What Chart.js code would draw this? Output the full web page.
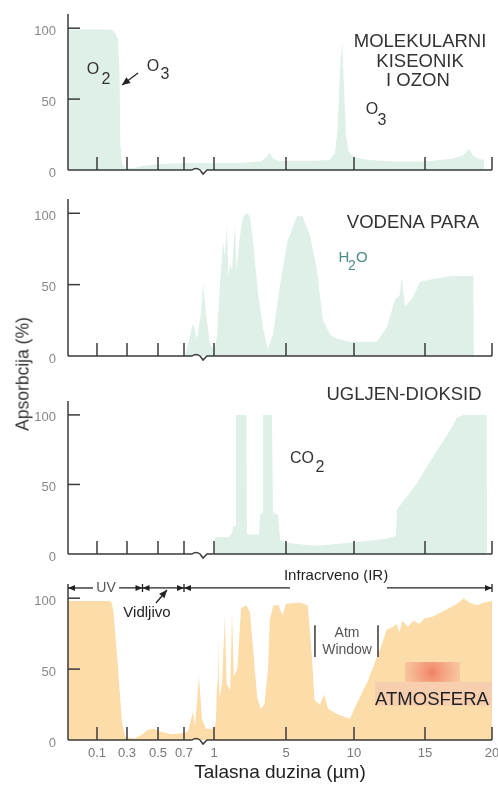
<!DOCTYPE html>
<html>
<head>
<meta charset="utf-8">
<script src="https://cdn.jsdelivr.net/npm/chart.js@4.4.1/dist/chart.umd.min.js"></script>
<style>
  html, body { margin: 0; padding: 0; background: #fff; }
  body { width: 498px; height: 793px; position: relative; overflow: hidden; font-family: "Liberation Sans", Arial, sans-serif; }
  canvas { position: absolute; left: 0; }
  #ytitle { position: absolute; left: 23px; top: 374px; transform: translate(-50%, -50%) rotate(-90deg); font-size: 17.5px; color: #333; white-space: nowrap; }
</style>
</head>
<body>
<canvas id="c1" width="498" height="185" style="top:0px;width:498px;height:185px"></canvas>
<canvas id="c2" width="498" height="185" style="top:185px;width:498px;height:185px"></canvas>
<canvas id="c3" width="498" height="200" style="top:370px;width:498px;height:200px"></canvas>
<canvas id="c4" width="498" height="223" style="top:570px;width:498px;height:223px"></canvas>
<div id="ytitle">Apsorbcija (%)</div>
<script>
// ose
const tickWl = [0.1, 0.3, 0.5, 0.7, 1, 5, 10, 15, 20];
const tickLabels = ['0.1', '0.3', '0.5', '0.7', '1', '5', '10', '15', '20'];
const yTicks = [0, 50, 100];

// molekularni kiseonik i ozon (talasna duzina um / apsorbcija %)
const o2o3Wl = [0, 0.19, 0.22, 0.24, 0.25, 0.255, 0.267, 0.29, 0.35, 0.4, 0.5, 0.7, 1, 2.5, 3.6, 3.9, 4.1, 4.3, 4.6, 7, 8.2, 8.6, 8.8, 8.97, 9.12, 9.26, 9.41, 9.6, 10, 11, 13, 15, 17, 17.8, 18.3, 18.6, 19, 19.4, 19.45];
const o2o3Abs = [99, 99, 97, 92, 70, 20, 5, 1, 1.5, 3, 4, 5, 5, 5, 6, 9, 12, 8, 6.5, 6.5, 7, 12, 30, 70, 90, 60, 25, 13, 9, 7, 6, 6, 8, 10, 15, 10, 8, 7, 0];

// vodena para
const h2oWl = [0.71, 0.74, 0.79, 0.83, 0.87, 0.89, 0.92, 0.96, 1.0, 1.06, 1.17, 1.33, 1.5, 1.61, 1.72, 1.8, 1.89, 2.0, 2.17, 2.25, 2.4, 2.6, 2.8, 3.0, 3.17, 3.44, 3.72, 4.0, 4.28, 4.67, 5.1, 5.8, 6.2, 6.76, 7.28, 7.72, 8.24, 8.75, 9.7, 11.6, 12.3, 12.9, 13.2, 13.38, 13.59, 14.08, 14.65, 15.6, 17, 18.6, 18.66];
const h2oAbs = [0, 8, 23, 12, 30, 51, 30, 8, 5, 6, 15, 50, 80, 70, 92, 55, 65, 60, 93, 60, 80, 97, 100, 98, 80, 45, 20, 5, 15, 50, 80, 98, 98, 85, 60, 25, 15, 12, 10, 10, 20, 40, 42, 55, 35, 40, 52, 54, 56, 56, 0];

// ugljen-dioksid
const co2Wl = [1.05, 1.06, 1.8, 2.0, 2.06, 2.2, 2.22, 2.8, 2.83, 3.5, 3.56, 3.7, 3.72, 4.22, 4.28, 4.56, 4.67, 5, 6, 7.3, 8.5, 10, 11, 12.2, 12.95, 13.03, 14.44, 15.6, 16.87, 17.39, 17.84, 19.6, 19.63];
const co2Abs = [0, 12, 12, 15, 20, 20, 100, 100, 14, 14, 28, 30, 100, 100, 30, 28, 10, 8, 7, 6, 7, 8.5, 9.5, 11, 13, 32, 51, 70, 89, 98, 100, 100, 0];

// cela atmosfera
const atmWl = [0, 0.19, 0.2, 0.21, 0.233, 0.267, 0.29, 0.35, 0.4, 0.43, 0.47, 0.52, 0.6, 0.7, 0.74, 0.79, 0.81, 0.85, 0.88, 0.92, 1.0, 1.1, 1.17, 1.22, 1.3, 1.45, 1.6, 1.7, 1.9, 2.0, 2.1, 2.3, 2.5, 2.8, 3.0, 3.2, 3.4, 3.6, 3.8, 4.0, 4.1, 4.3, 4.6, 4.8, 5.0, 6.0, 6.6, 6.9, 7.1, 7.5, 7.8, 8.1, 8.8, 9.7, 10.2, 10.9, 11.8, 12.3, 12.8, 13.0, 13.2, 13.4, 13.8, 14.2, 14.6, 15.0, 15.6, 16.2, 16.8, 17.4, 17.9, 18.3, 18.9, 19.4, 20];
const atmAbs = [98, 98, 96, 90, 61, 12, 2, 1, 4, 7, 8, 6, 4, 5, 6, 20, 10, 45, 15, 8, 8, 12, 40, 72, 30, 40, 87, 40, 35, 90, 45, 50, 93, 95, 90, 60, 30, 22, 25, 50, 85, 95, 95, 88, 96, 97, 95, 60, 28, 25, 32, 22, 18, 15, 26, 40, 63, 78, 80, 82, 76, 84, 80, 84, 82, 86, 87, 90, 93, 96, 100, 97, 95, 97, 98];

const FONT = '"Liberation Sans", Arial, Helvetica, sans-serif';
const zelena = 'rgb(222, 240, 232)';
const narandzasta = 'rgb(252, 221, 170)';

// prelomljena osa: talasna duzina -> polozaj na osi
const axisWl = [0, 0.1, 0.3, 0.5, 0.7, 1, 5, 10, 15, 20];
const axisPos = [0, 29, 59, 90, 116, 146, 218, 286, 357, 424];

function osa(w) {
    for (let i = 1; i < axisWl.length; i++) {
        if (w <= axisWl[i]) {
            const t = (w - axisWl[i - 1]) / (axisWl[i] - axisWl[i - 1]);
            return axisPos[i - 1] + t * (axisPos[i] - axisPos[i - 1]);
        }
    }
    return axisPos[axisPos.length - 1];
}

function px(c, w) { return c.scales.x.getPixelForValue(osa(w)); }
function py(c, v) { return c.scales.y.getPixelForValue(v); }

function linija(ctx, x1, y1, x2, y2) {
    ctx.beginPath();
    ctx.moveTo(x1, y1);
    ctx.lineTo(x2, y2);
    ctx.stroke();
}

// vrh strelice u tacki (x, y), ugao smera
function vrh(ctx, x, y, ugao, d, s) {
    d = d || 7; s = s || 3;
    const cs = Math.cos(ugao), sn = Math.sin(ugao);
    ctx.beginPath();
    ctx.moveTo(x, y);
    ctx.lineTo(x - d * cs - s * sn, y - d * sn + s * cs);
    ctx.lineTo(x - d * cs + s * sn, y - d * sn - s * cs);
    ctx.closePath();
    ctx.fill();
}

function strelica(ctx, x1, y1, x2, y2) {
    linija(ctx, x1, y1, x2, y2);
    vrh(ctx, x2, y2, Math.atan2(y2 - y1, x2 - x1), 8, 3.5);
}

function napisi(c, lista) {
    const ctx = c.ctx;
    ctx.save();
    ctx.textAlign = 'center';
    ctx.textBaseline = 'middle';
    lista.forEach(n => {
        ctx.font = (n.s || 15) + 'px ' + FONT;
        ctx.fillStyle = n.c || '#333';
        ctx.fillText(n.t, px(c, n.w), py(c, n.v));
    });
    ctx.restore();
}

// ose crtane preko povrsine, sa prelomom i crticama okrenutim unutra
const osePlugin = {
    id: 'ose',
    afterDatasetsDraw(c) {
        const ctx = c.ctx, a = c.chartArea;
        ctx.save();
        ctx.strokeStyle = '#3a3a3a';
        ctx.lineWidth = 1.5;
        linija(ctx, a.left, a.top, a.left, a.bottom);
        const xb = px(c, 0.85), yb = a.bottom;
        ctx.beginPath();
        ctx.moveTo(a.left, yb);
        ctx.lineTo(xb - 7, yb);
        ctx.quadraticCurveTo(xb - 3, yb - 3, xb + 1, yb);
        ctx.lineTo(xb + 4, yb + 4);
        ctx.lineTo(xb + 8, yb);
        ctx.lineTo(a.right, yb);
        ctx.stroke();
        tickWl.forEach(w => { const x = px(c, w); linija(ctx, x, yb, x, yb - 13); });
        [50, 100].forEach(v => { const y = py(c, v); linija(ctx, a.left, y, a.left + 12, y); });
        ctx.restore();
    }
};

function grafikon(id, wl, abs, boja, o) {
    const poslednji = !!o.poslednji;
    return new Chart(document.getElementById(id), {
        type: 'line',
        data: {
            datasets: [{
                data: wl.map((w, i) => ({ x: osa(w), y: abs[i] })),
                fill: 'origin',
                backgroundColor: boja,
                borderWidth: 0,
                pointRadius: 0,
                tension: 0
            }]
        },
        options: {
            responsive: false,
            animation: false,
            layout: { padding: { top: o.top, bottom: o.bottom, left: 0, right: 6 } },
            plugins: { legend: { display: false }, tooltip: { enabled: false } },
            scales: {
                x: {
                    type: 'linear',
                    min: 0,
                    max: axisPos[axisPos.length - 1],
                    afterBuildTicks: s => { s.ticks = tickWl.map(w => ({ value: osa(w) })); },
                    afterFit: s => {
                        s.height = poslednji ? 53 : 0;
                        s.paddingLeft = 0; s.paddingRight = 0;
                    },
                    grid: { display: false, drawTicks: false },
                    border: { display: false },
                    ticks: {
                        display: poslednji,
                        autoSkip: false,
                        maxRotation: 0,
                        padding: 6,
                        color: '#777',
                        font: { size: 13, family: FONT },
                        callback: (v, i) => tickLabels[i]
                    },
                    title: {
                        display: poslednji,
                        text: 'Talasna duzina (µm)',
                        color: '#222',
                        font: { size: 19, family: FONT },
                        padding: { top: 0, bottom: 9 }
                    }
                },
                y: {
                    min: 0,
                    max: 110,
                    afterBuildTicks: s => { s.ticks = yTicks.map(v => ({ value: v })); },
                    afterFit: s => {
                        s.width = 68;
                        s.paddingTop = 0; s.paddingBottom = 0;
                    },
                    grid: { display: false, drawTicks: false },
                    border: { display: false },
                    ticks: { color: '#888', padding: 12, labelOffset: 3, font: { size: 13, family: FONT } }
                }
            }
        },
        plugins: [osePlugin, { id: 'natpisi', afterDatasetsDraw: c => o.crtaj(c) }]
    });
}

// Panel 1 - O2 i O3
grafikon('c1', o2o3Wl, o2o3Abs, zelena, {
    top: 14, bottom: 15,
    crtaj: c => {
        napisi(c, [
            { t: 'MOLEKULARNI', w: 14.65, v: 90, s: 18.5 },
            { t: 'KISEONIK', w: 14.65, v: 76, s: 18.5 },
            { t: 'I OZON', w: 14.5, v: 63, s: 18.5 },
            { t: 'O', w: 0.086, v: 71, s: 16 },
            { t: '2', w: 0.16, v: 63.5, s: 16 },
            { t: 'O', w: 0.468, v: 72.6, s: 16 },
            { t: '3', w: 0.554, v: 67, s: 16 },
            { t: 'O', w: 11.27, v: 42.3, s: 16 },
            { t: '3', w: 11.97, v: 34.6, s: 16 }
        ]);
        const ctx = c.ctx;
        ctx.save();
        ctx.strokeStyle = '#222'; ctx.fillStyle = '#222'; ctx.lineWidth = 1.3;
        strelica(ctx, px(c, 0.371), py(c, 68.4), px(c, 0.267), py(c, 60));
        ctx.restore();
    }
});

// Panel 2 - vodena para
grafikon('c2', h2oWl, h2oAbs, zelena, {
    top: 14, bottom: 14,
    crtaj: c => napisi(c, [
        { t: 'VODENA PARA', w: 14.15, v: 93.2, s: 18.5 },
        { t: 'H', w: 9.26, v: 68.7, s: 15, c: '#4f8b88' },
        { t: '2', w: 9.85, v: 63, s: 14, c: '#4f8b88' },
        { t: 'O', w: 10.56, v: 68.7, s: 15, c: '#4f8b88' }
    ])
});

// Panel 3 - ugljen-dioksid
grafikon('c3', co2Wl, co2Abs, zelena, {
    top: 31, bottom: 16,
    crtaj: c => napisi(c, [
        { t: 'UGLJEN-DIOKSID', w: 13.52, v: 114.3, s: 18.5 },
        { t: 'CO', w: 6.18, v: 68.3, s: 16 },
        { t: '2', w: 7.5, v: 61.8, s: 16 }
    ])
});

// Panel 4 - atmosfera
grafikon('c4', atmWl, atmAbs, narandzasta, {
    top: 14, bottom: 0, poslednji: true,
    crtaj: c => {
        const ctx = c.ctx;
        ctx.save();
        // crvenkasti odsjaj iza natpisa
        const bx1 = px(c, 11.48), bx2 = px(c, 20.07);
        ctx.fillStyle = 'rgba(242, 190, 182, 0.45)';
        ctx.fillRect(bx1, py(c, 41), bx2 - bx1, py(c, 24) - py(c, 41));
        const sx1 = px(c, 13.59), sx2 = px(c, 17.61), sy1 = py(c, 55), sy2 = py(c, 41);
        const cx = px(c, 15.52), cy = py(c, 47.9);
        const g = ctx.createRadialGradient(cx, cy, 0, cx, cy, 28);
        g.addColorStop(0, 'rgba(236, 100, 80, 0.75)');
        g.addColorStop(1, 'rgba(245, 178, 150, 0.55)');
        ctx.fillStyle = g;
        ctx.fillRect(sx1, sy1, sx2 - sx1, sy2 - sy1);
        ctx.restore();

        napisi(c, [
            { t: 'ATMOSFERA', w: 15.52, v: 28.2, s: 18.5, c: '#222' },
            { t: 'Atm', w: 9.49, v: 75.5, s: 14, c: '#555' },
            { t: 'Window', w: 9.49, v: 63.5, s: 14, c: '#555' },
            { t: 'UV', w: 0.16, v: 107.2, s: 14, c: '#555' },
            { t: 'Infracrveno (IR)', w: 8.68, v: 115.6, s: 15, c: '#222' },
            { t: 'Vidljivo', w: 0.429, v: 89.5, s: 15, c: '#222' }
        ]);

        ctx.save();
        ctx.strokeStyle = '#222'; ctx.fillStyle = '#222'; ctx.lineWidth = 1.3;
        const yA = py(c, 107.2);
        linija(ctx, px(c, 0), yA, px(c, 0.086), yA);
        linija(ctx, px(c, 0.247), yA, px(c, 5.29), yA);
        linija(ctx, px(c, 12.32), yA, px(c, 20), yA);
        vrh(ctx, px(c, 0), yA, Math.PI);
        [0.4, 0.7].forEach(w => {
            vrh(ctx, px(c, w), yA, 0);
            vrh(ctx, px(c, w), yA, Math.PI);
            linija(ctx, px(c, w), yA - 4, px(c, w), yA + 4);
        });
        vrh(ctx, px(c, 20), yA, 0);
        linija(ctx, px(c, 20), yA - 4, px(c, 20), yA + 4);
        strelica(ctx, px(c, 0.487), py(c, 96.6), px(c, 0.569), py(c, 105.8));
        ctx.lineWidth = 1.6;
        ctx.strokeStyle = '#444';
        [7.13, 11.69].forEach(w => linija(ctx, px(c, w), py(c, 81), px(c, w), py(c, 58.5)));
        ctx.restore();
    }
});
</script>
</body>
</html>
